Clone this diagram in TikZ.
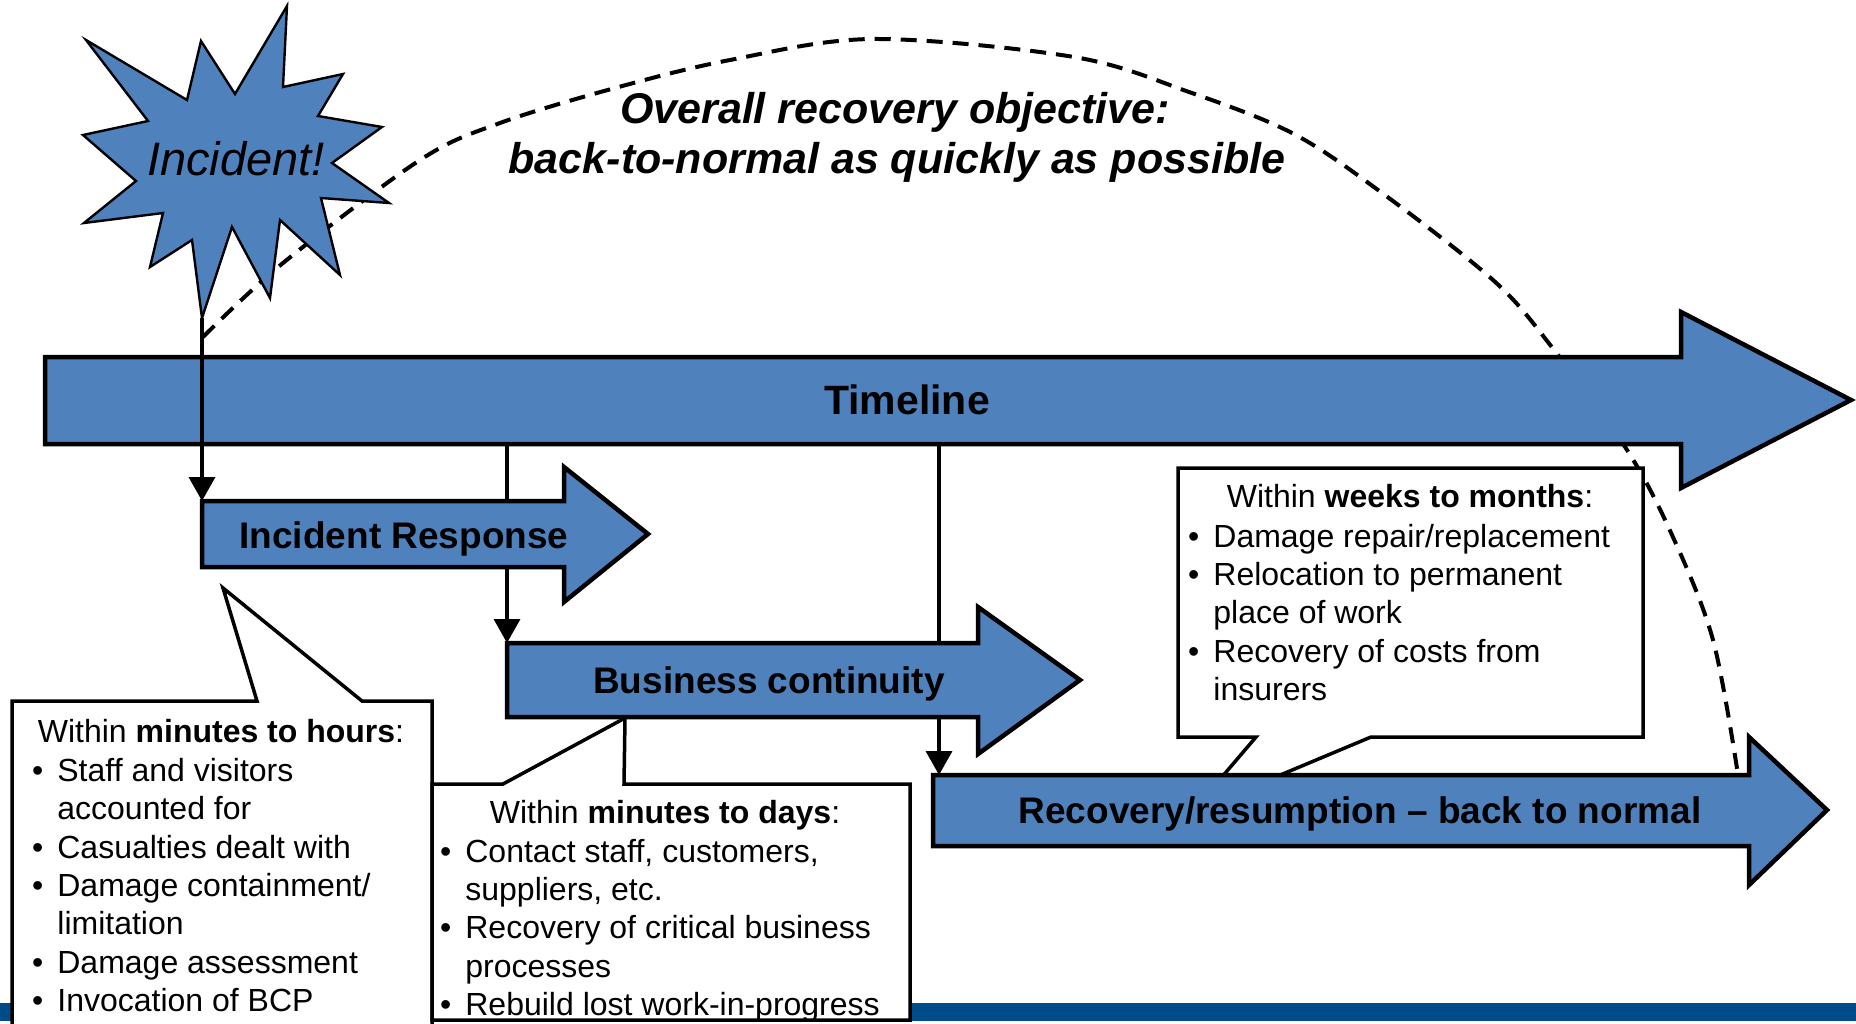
\documentclass[tikz,border=0pt]{standalone}
\usepackage{fontspec}
\setmainfont{Liberation Sans}
\usetikzlibrary{arrows.meta}
\definecolor{arrowblue}{HTML}{4F81BD}
\definecolor{bandblue}{HTML}{004C88}
\newcommand\listdot{\llap{\textbullet\hspace{7pt}}}

\begin{document}
\begin{tikzpicture}[x=0.5pt,y=-0.5pt,
  blockarrow/.style={fill=arrowblue,draw=black,line width=2.25pt,line join=miter},
  callout/.style={fill=white,draw=black,line width=1.75pt,line join=miter},
  link/.style={draw=black,line width=1.75pt},
  linkarrow/.style={link,-{Triangle[length=12pt,width=13pt]}},
  arrowlabel/.style={font=\fontsize{18.5pt}{22pt}\selectfont\bfseries,inner sep=0pt,anchor=base},
  boxtext/.style={font=\fontsize{16pt}{19pt}\selectfont,inner sep=0pt,anchor=base west},
  boxhead/.style={font=\fontsize{16pt}{19pt}\selectfont,inner sep=0pt,anchor=base},
]
\useasboundingbox (0,0) rectangle (1856,1023);

% footer band
\fill[bandblue] (0,1003) rectangle (1856,1021);

% overall recovery objective: dashed arc
\draw[line width=2pt,dash pattern=on 8pt off 5pt]
  plot[smooth,tension=0.55] coordinates {(203,337) (283,263) (420,160) (500,123)
  (615,88) (730,60) (873,39) (1074,57) (1189,92) (1292,133) (1378,190)
  (1493,280) (1551,346) (1627,450) (1672,535) (1713,640) (1738,775)};

\node[font=\fontsize{21.5pt}{25pt}\selectfont\bfseries\itshape,inner sep=0pt,anchor=base]
  (obj1) at (895,123) {Overall recovery objective:};
\node[font=\fontsize{21.5pt}{25pt}\selectfont\bfseries\itshape,inner sep=0pt,anchor=base]
  (obj2) at (897,173) {back-to-normal as quickly as possible};

% timeline arrow
\draw[blockarrow] (45,357) -- (1681,357) -- (1681,312) -- (1851,400) -- (1681,488)
  -- (1681,444) -- (45,444) -- cycle;
\node[font=\fontsize{20.5pt}{24pt}\selectfont\bfseries,inner sep=0pt]
  (timeline) at (907,400) {Timeline};

% incident burst
\draw[fill=arrowblue,draw=black,line width=1.2pt,line join=miter]
  (287,6) -- (283,87) -- (343,74) -- (318,116) -- (382,127) -- (332,163)
  -- (389,203) -- (321,198) -- (340,275) -- (280,220) -- (270,298) -- (232,227)
  -- (202,318) -- (192,240) -- (150,267) -- (163,213) -- (84,223) -- (136,181)
  -- (83,135) -- (148,121) -- (86,40) -- (187,100) -- (201,41) -- (235,94) -- cycle;
\node[font=\fontsize{23.5pt}{28pt}\selectfont\itshape,inner sep=0pt,anchor=base]
  (incident) at (236,175) {Incident!};

% connection points
\coordinate (burst-tip) at (202,318);
\coordinate (ir-in) at (202,501);
\coordinate (tl-a) at (507,444);
\coordinate (ir-top) at (507,501);
\coordinate (ir-bot) at (507,567);
\coordinate (bc-top) at (507,643);
\coordinate (tl-b) at (939,444);
\coordinate (bc-topb) at (939,643);
\coordinate (bc-bot) at (939,717);
\coordinate (rec-top) at (939,775);

\draw[link] (tl-a) -- (ir-top);
\draw[linkarrow] (ir-bot) -- (bc-top);
\draw[link] (tl-b) -- (bc-topb);
\draw[linkarrow] (bc-bot) -- (rec-top);

% incident response arrow
\draw[blockarrow] (202,501) -- (564,501) -- (564,467) -- (648,534) -- (564,602)
  -- (564,567) -- (202,567) -- cycle;
\node[arrowlabel] (ir) at (404,548) {Incident Response};

% business continuity arrow
\draw[blockarrow] (507,643) -- (978,643) -- (978,607) -- (1080,680) -- (978,754)
  -- (978,717) -- (507,717) -- cycle;
\node[arrowlabel] (bc) at (769,693) {Business continuity};

\draw[linkarrow] (burst-tip) -- (ir-in);

% callout: minutes to hours
\draw[callout] (12,701) -- (257,701) -- (223,588) -- (362,701) -- (432,701)
  -- (432,1040) -- (12,1040) -- cycle;
\node[boxhead] (h1) at (221,742) {Within \textbf{minutes to hours}:};
\node[boxtext] (h1a) at (57,781) {\listdot Staff and visitors};
\node[boxtext] (h1b) at (57,819) {accounted for};
\node[boxtext] (h1c) at (57,858) {\listdot Casualties dealt with};
\node[boxtext] (h1d) at (57,896) {\listdot Damage containment/};
\node[boxtext] (h1e) at (57,934) {limitation};
\node[boxtext] (h1f) at (57,973) {\listdot Damage assessment};
\node[boxtext] (h1g) at (57,1011) {\listdot Invocation of BCP};

% callout: minutes to days
\draw[callout] (432,784) -- (503,784) -- (625,718) -- (624,784) -- (910,784)
  -- (910,1020) -- (432,1020) -- cycle;
\node[boxhead] (h2) at (665,823) {Within \textbf{minutes to days}:};
\node[boxtext] (h2a) at (465,862) {\listdot Contact staff, customers,};
\node[boxtext] (h2b) at (465,900) {suppliers, etc.};
\node[boxtext] (h2c) at (465,938) {\listdot Recovery of critical business};
\node[boxtext] (h2d) at (465,977) {processes};
\node[boxtext] (h2e) at (465,1015) {\listdot Rebuild lost work-in-progress};

% callout: weeks to months
\draw[callout] (1178,468) -- (1643,468) -- (1643,737) -- (1371,737) -- (1192,812)
  -- (1256,737) -- (1178,737) -- cycle;
\node[boxhead] (h3) at (1410,507) {Within \textbf{weeks to months}:};
\node[boxtext] (h3a) at (1213,547) {\listdot Damage repair/replacement};
\node[boxtext] (h3b) at (1213,585) {\listdot Relocation to permanent};
\node[boxtext] (h3c) at (1213,623) {place of work};
\node[boxtext] (h3d) at (1213,662) {\listdot Recovery of costs from};
\node[boxtext] (h3e) at (1213,700) {insurers};

% recovery arrow
\draw[blockarrow] (933,775) -- (1749,775) -- (1749,737) -- (1827,810) -- (1749,885)
  -- (1749,846) -- (933,846) -- cycle;
\node[arrowlabel] (rec) at (1360,823) {Recovery/resumption -- back to normal};

\end{tikzpicture}
\end{document}
